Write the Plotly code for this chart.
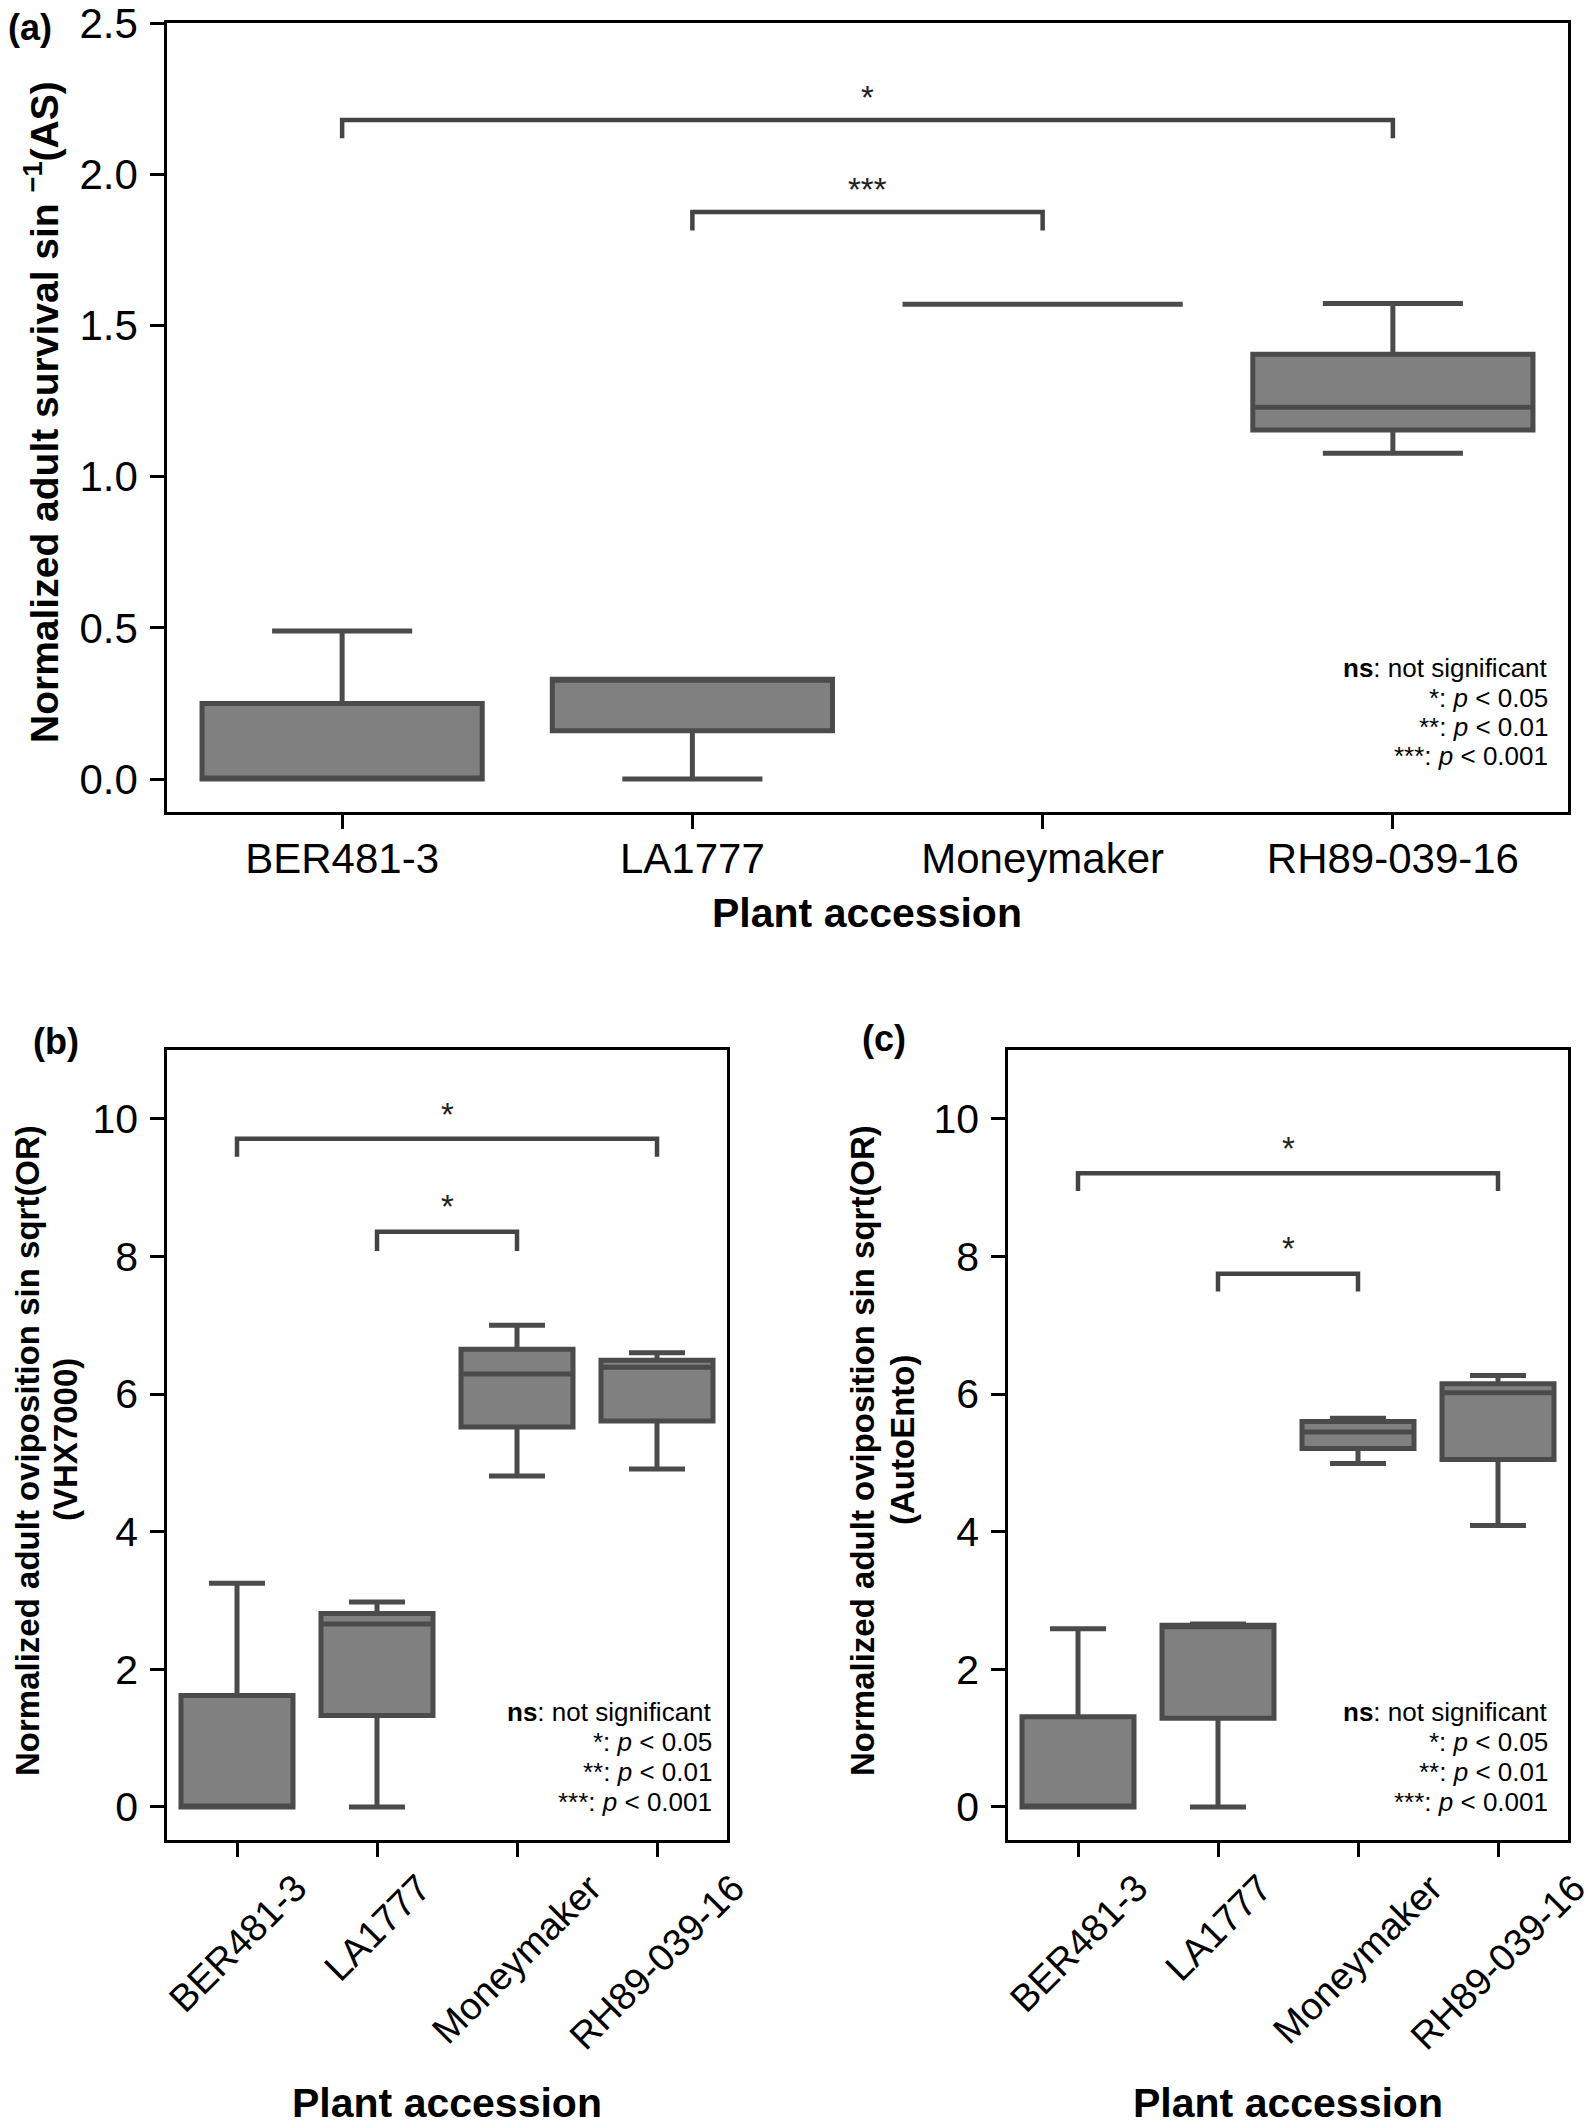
import plotly.graph_objects as go

OFF = 8  # page body margin of the html page
W, H = 1593 - 2 * OFF, 2128 - 2 * OFF

categories = ["BER481-3", "LA1777", "Moneymaker", "RH89-039-16"]
positions = [0, 1, 2, 3]

# Panel (a): normalized adult survival
a_q1 = [0.0, 0.16, 1.5708, 1.155]
a_median = [0.0, 0.33, 1.5708, 1.23]
a_q3 = [0.25, 0.33, 1.5708, 1.405]
a_lower = [0.0, 0.0, 1.5708, 1.078]
a_upper = [0.49, 0.33, 1.5708, 1.573]

# Panel (b): oviposition (VHX7000)
b_q1 = [0.0, 1.33, 5.52, 5.61]
b_median = [0.0, 2.66, 6.29, 6.39]
b_q3 = [1.62, 2.81, 6.65, 6.49]
b_lower = [0.0, 0.0, 4.81, 4.91]
b_upper = [3.25, 2.98, 7.0, 6.60]

# Panel (c): oviposition (AutoEnto)
c_q1 = [0.0, 1.29, 5.21, 5.05]
c_median = [0.0, 2.62, 5.45, 6.02]
c_q3 = [1.31, 2.64, 5.60, 6.15]
c_lower = [0.0, 0.0, 4.99, 4.09]
c_upper = [2.59, 2.66, 5.65, 6.27]

# significance brackets: (from, to, top, tick bottom, label)
a_brackets = [(0, 3, 2.18, 2.12, "*"), (1, 2, 1.876, 1.815, "***")]
b_brackets = [(0, 3, 9.71, 9.45, "*"), (1, 2, 8.36, 8.08, "*")]
c_brackets = [(0, 3, 9.21, 8.95, "*"), (1, 2, 7.75, 7.49, "*")]

legend_lines = ["<b>ns</b>: not significant", "*: <i>p</i> &lt; 0.05",
                "**: <i>p</i> &lt; 0.01", "***: <i>p</i> &lt; 0.001"]

FILL = "#808080"
EDGE = "#4b4b4b"
FONT = "Liberation Sans, Arial, sans-serif"


def px(x):
    return (x - OFF) / W


def py(y):
    return 1 - (y - OFF) / H


fig = go.Figure()

panels = [
    ("x", "y", a_q1, a_median, a_q3, a_lower, a_upper, a_brackets),
    ("x2", "y2", b_q1, b_median, b_q3, b_lower, b_upper, b_brackets),
    ("x3", "y3", c_q1, c_median, c_q3, c_lower, c_upper, c_brackets),
]
star_offsets = [0.075, 0.36, 0.36]

for i, (xa, ya, q1, med, q3, lo, up, brs) in enumerate(panels):
    for p in positions:
        fig.add_trace(go.Box(
            x=[p], q1=[q1[p]], median=[med[p]], q3=[q3[p]],
            lowerfence=[lo[p]], upperfence=[up[p]],
            width=0.8, whiskerwidth=0.5, boxpoints=False,
            fillcolor=FILL, line=dict(color=EDGE, width=5),
            xaxis=xa, yaxis=ya, showlegend=False, hoverinfo="skip",
        ))
    for (x0, x1, top, bot, lab) in brs:
        fig.add_trace(go.Scatter(
            x=[x0, x0, x1, x1], y=[bot, top, top, bot], mode="lines",
            line=dict(color="#444444", width=4.5),
            xaxis=xa, yaxis=ya, showlegend=False, hoverinfo="skip",
        ))
        fig.add_annotation(
            x=(x0 + x1) / 2, y=top + star_offsets[i], xref=xa, yref=ya,
            text=lab, showarrow=False, font=dict(size=33, color="#222", family=FONT),
            yanchor="middle",
        )

axis_common = dict(
    showline=True, linecolor="black", linewidth=2.5, mirror=True,
    ticks="outside", ticklen=14, tickwidth=2.5, tickcolor="black",
    showgrid=False, zeroline=False, automargin=False, ticklabeloverflow="allow",
)

fig.update_layout(
    template="none",
    width=W, height=H, margin=dict(l=0, r=0, t=0, b=0, autoexpand=False),
    paper_bgcolor="white", plot_bgcolor="white",
    font=dict(family=FONT, color="black"),
    xaxis=dict(domain=[px(167), px(1568)], range=[-0.5, 3.5], tickvals=positions,
               ticktext=categories, tickfont=dict(size=42), ticklabelstandoff=-6,
               anchor="y", **axis_common),
    yaxis=dict(domain=[py(812), py(22.7)], range=[-0.109, 2.502],
               tickvals=[0, 0.5, 1.0, 1.5, 2.0, 2.5], tickformat=".1f",
               tickfont=dict(size=42), ticklabelstandoff=4, anchor="x", **axis_common),
    xaxis2=dict(domain=[px(167), px(727)], range=[-0.5, 3.5], tickvals=positions,
                showticklabels=False, anchor="y2", **axis_common),
    yaxis2=dict(domain=[py(1840), py(1050)], range=[-0.48, 11.0],
                tickvals=[0, 2, 4, 6, 8, 10], tickfont=dict(size=41), ticklabelstandoff=4,
                anchor="x2", **axis_common),
    xaxis3=dict(domain=[px(1008), px(1568)], range=[-0.5, 3.5], tickvals=positions,
                showticklabels=False, anchor="y3", **axis_common),
    yaxis3=dict(domain=[py(1840), py(1050)], range=[-0.48, 11.0],
                tickvals=[0, 2, 4, 6, 8, 10], tickfont=dict(size=41), ticklabelstandoff=4,
                anchor="x3", **axis_common),
)


def ann(x, y, text, size, angle=0, xanchor="center", align="center"):
    fig.add_annotation(
        x=px(x), y=py(y), xref="paper", yref="paper", text=text, showarrow=False,
        textangle=angle, xanchor=xanchor, yanchor="middle", align=align,
        font=dict(size=size, family=FONT, color="black"),
    )


# rotated category labels for (b) and (c), centred under their ticks
for xa in ["x2", "x3"]:
    for p, cat in zip(positions, categories):
        fig.add_annotation(
            x=p, xref=xa, y=py(1864), yref="paper", text=cat, showarrow=False,
            textangle=-45, xanchor="center", yanchor="top",
            font=dict(size=38, family=FONT, color="black"),
        )

# panel labels
ann(30, 27, "<b>(a)</b>", 36)
ann(56, 1041, "<b>(b)</b>", 36)
ann(884, 1038, "<b>(c)</b>", 36)

# axis titles
ann(41, 412, "<b>Normalized adult survival sin <sup>−1</sup>(AS)</b>", 39, angle=-90)
ann(867, 913, "<b>Plant accession</b>", 41)
ann(27, 1451, "<b>Normalized adult oviposition sin sqrt(OR)</b>", 33, angle=-90)
ann(65, 1440, "<b>(VHX7000)</b>", 33, angle=-90)
ann(447, 2103, "<b>Plant accession</b>", 41)
ann(862, 1451, "<b>Normalized adult oviposition sin sqrt(OR)</b>", 33, angle=-90)
ann(902, 1440, "<b>(AutoEnto)</b>", 33, angle=-90)
ann(1288, 2103, "<b>Plant accession</b>", 41)

# significance legends (one annotation per line)
for (xr, ys) in [(1550, [668, 698, 727, 756]),
                 (714, [1712, 1742, 1772, 1802]),
                 (1550, [1712, 1742, 1772, 1802])]:
    for txt, yc in zip(legend_lines, ys):
        ann(xr, yc, txt, 26, xanchor="right", align="right")

fig.write_html("out.html")
